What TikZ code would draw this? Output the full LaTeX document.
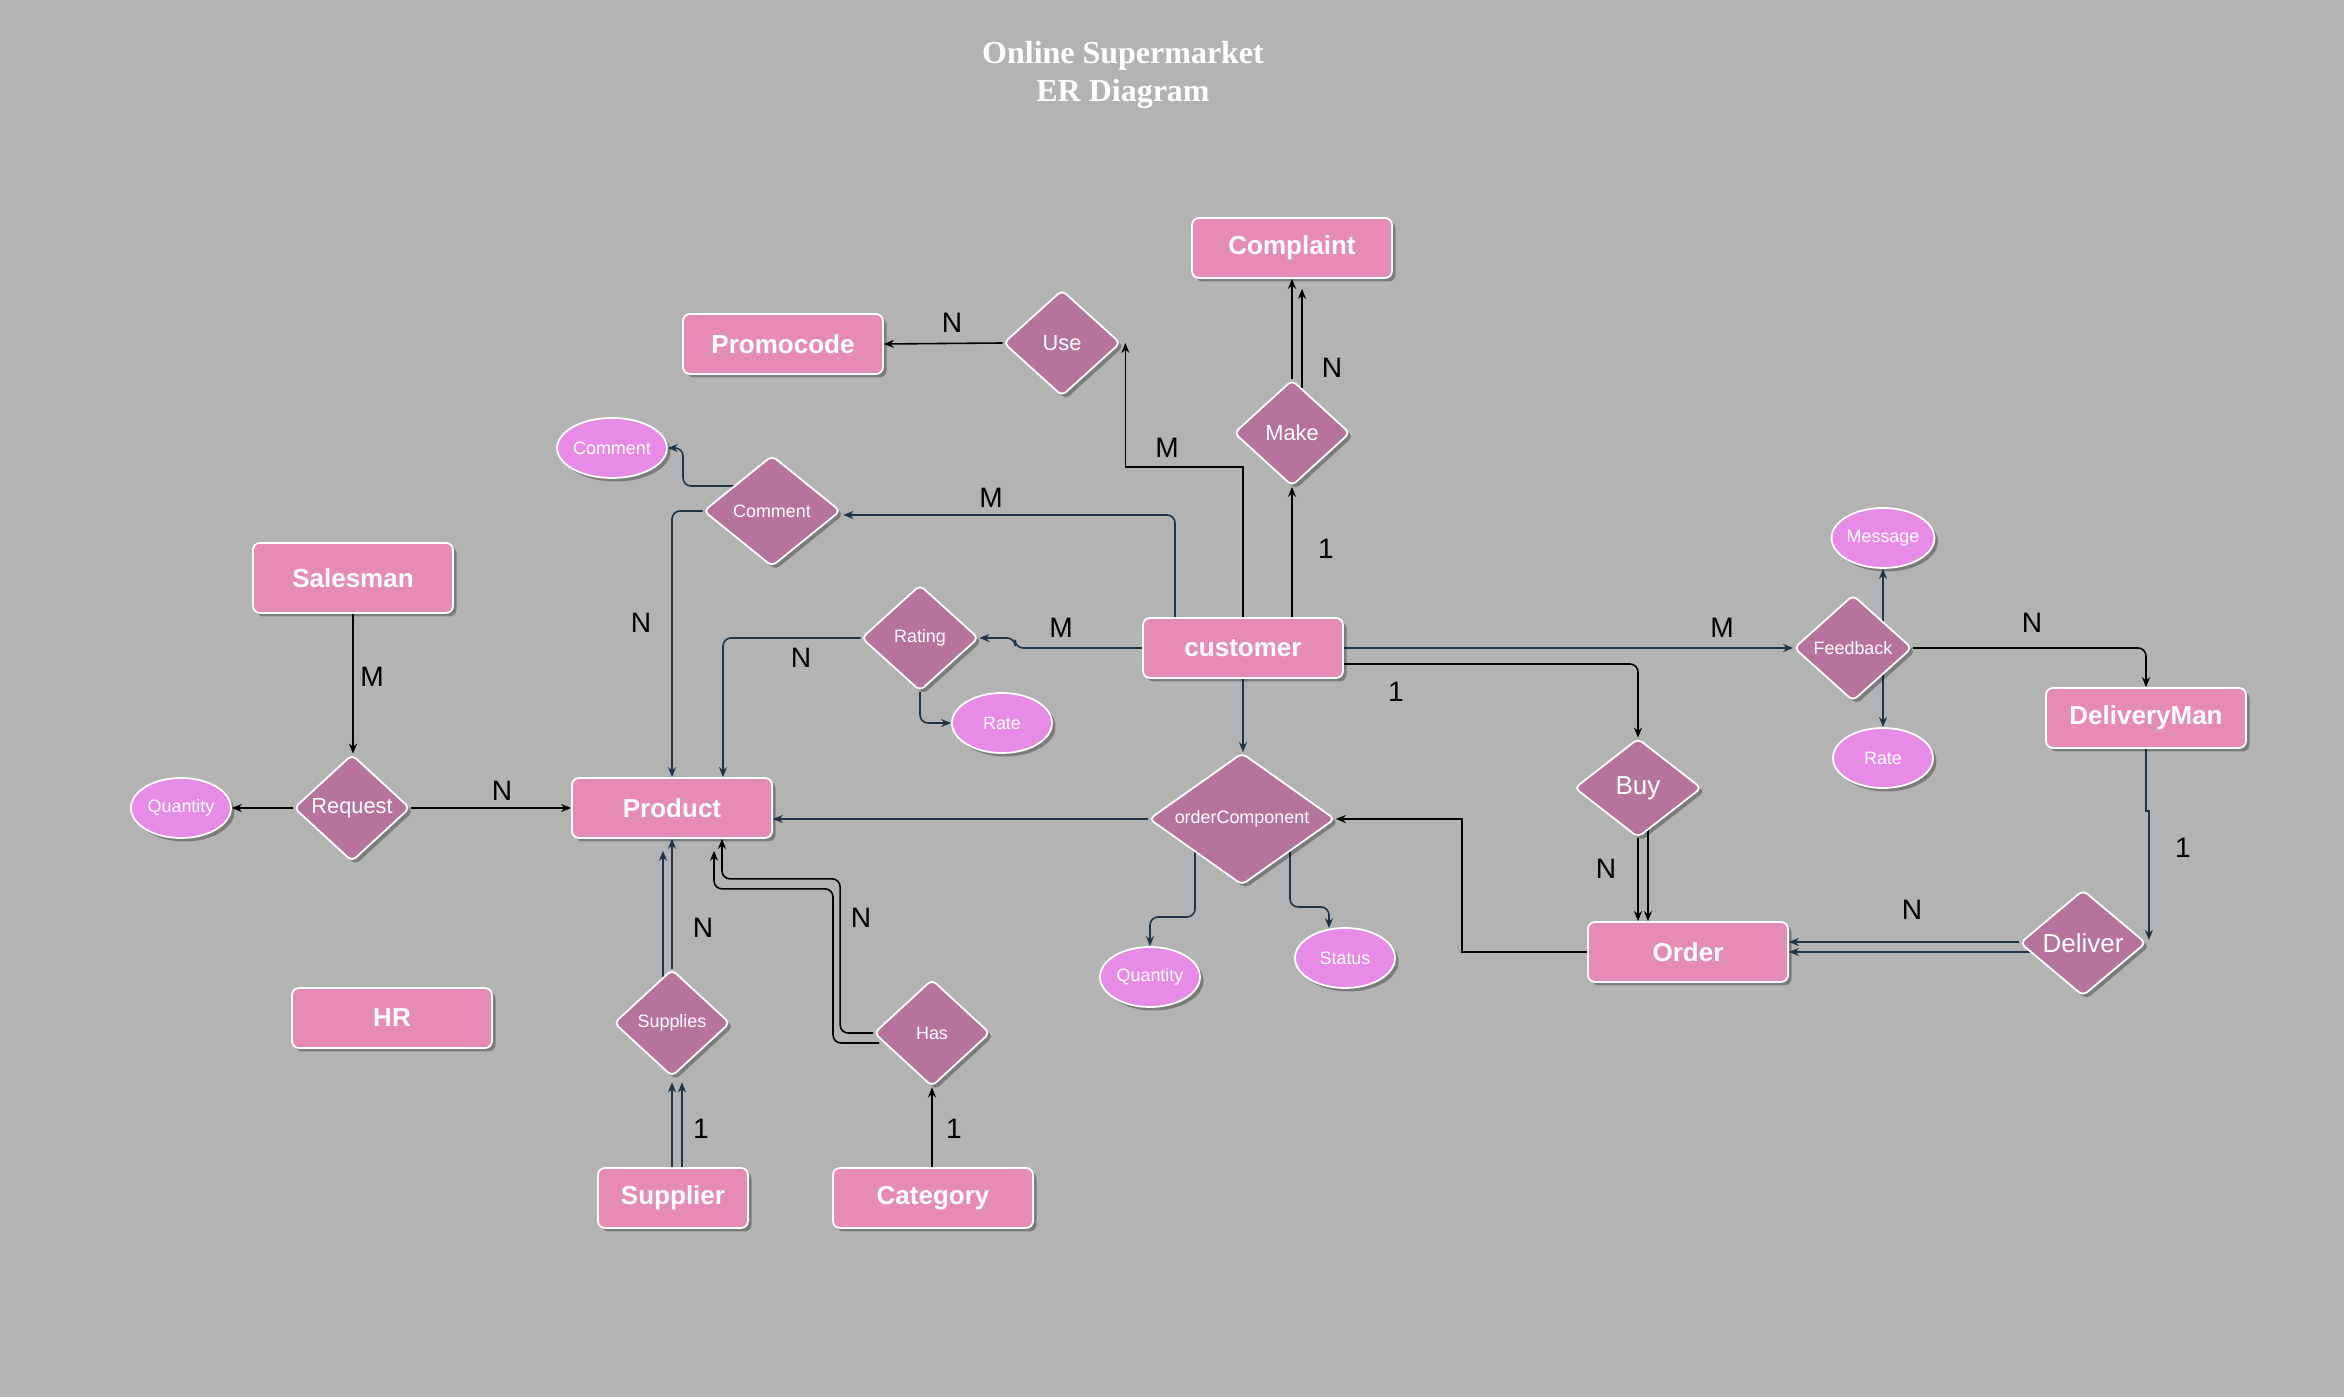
\documentclass[tikz,border=0pt]{standalone}
\usepackage{fontspec}
\setmainfont{Liberation Sans}
\newfontfamily\titleserif{Liberation Serif}
\usetikzlibrary{shapes.geometric,arrows.meta,calc,shadows}
\definecolor{bgc}{HTML}{B3B3B3}
\definecolor{entc}{HTML}{E68BB6}
\definecolor{relc}{HTML}{B5739D}
\definecolor{attc}{HTML}{E78BE6}
\definecolor{navyc}{HTML}{1F3447}
\newcommand{\entfont}{\bfseries\fontsize{7.4pt}{8.9pt}\selectfont}
\newcommand{\bigrelfont}{\fontsize{7.4pt}{8.9pt}\selectfont}
\newcommand{\relfont}{\fontsize{6.2pt}{7.4pt}\selectfont}
\newcommand{\smfont}{\fontsize{5.1pt}{6.1pt}\selectfont}
\newcommand{\cardfont}{\fontsize{8pt}{9.6pt}\selectfont}
\newcommand{\ttlfont}{\titleserif\bfseries\fontsize{9.1pt}{10.8pt}\selectfont}
\pgfdeclarelayer{bglayer}
\pgfdeclarelayer{lines}
\pgfsetlayers{bglayer,lines,main}
\tikzset{
  shd/.style={drop shadow={shadow xshift=0.35mm,shadow yshift=-0.35mm,opacity=0.3,fill=black}},
  ent/.style={rectangle, rounded corners=0.7mm, fill=entc, draw=white, line width=0.5pt,
    text=white, font=\entfont, minimum width=20mm, minimum height=6mm, inner sep=0pt, shd},
  rel/.style={diamond, rounded corners=0.5mm, fill=relc, draw=white, line width=0.5pt,
    text=white, inner sep=0pt, shd},
  attr/.style={ellipse, fill=attc, draw=white, line width=0.5pt, text=white, font=\smfont,
    minimum width=10mm, minimum height=6mm, inner sep=0pt, shd},
  card/.style={font=\cardfont, text=black, inner sep=0pt},
  con/.style={line width=0.45pt, -{Stealth[length=1mm,width=0.8mm]}},
  blk/.style={con, draw=black},
  nvy/.style={con, draw=navyc},
  rc/.style={rounded corners=0.8mm}
}
\begin{document}
\begin{tikzpicture}[x=0.1mm,y=-0.1mm]
\begin{pgfonlayer}{bglayer}
\fill[bgc] (0,0) rectangle (2344,1397);
\end{pgfonlayer}
\useasboundingbox (0,0) rectangle (2344,1397);

% title
\node[font=\ttlfont, text=white, align=center, inner sep=0pt] (title) at (1123,75) {Online Supermarket\\ER Diagram};

% entities
\node[ent] (complaint) at (1292,248) {Complaint};
\node[ent] (promo) at (783,344) {Promocode};
\node[ent] (cust) at (1243,648) {customer};
\node[ent, minimum height=7mm] (salesman) at (353,578) {Salesman};
\node[ent] (product) at (672,808) {Product};
\node[ent] (hr) at (392,1018) {HR};
\node[ent, minimum width=15mm] (supplier) at (673,1198) {Supplier};
\node[ent] (category) at (933,1198) {Category};
\node[ent] (order) at (1688,952) {Order};
\node[ent] (dman) at (2146,718) {DeliveryMan};

% relationships
\node[rel, minimum width=11.7mm, minimum height=10.6mm, font=\relfont] (use) at (1062,343) {Use};
\node[rel, minimum width=11.6mm, minimum height=10.6mm, font=\relfont] (make) at (1292,433) {Make};
\node[rel, minimum width=13.7mm, minimum height=11.1mm, font=\smfont] (comment) at (772,511) {Comment};
\node[rel, minimum width=11.7mm, minimum height=10.6mm, font=\smfont] (rating) at (920,638) {Rating};
\node[rel, minimum width=11.6mm, minimum height=10.7mm, font=\relfont] (request) at (352,808) {Request};
\node[rel, minimum width=11.6mm, minimum height=10.7mm, font=\smfont] (supplies) at (672,1023) {Supplies};
\node[rel, minimum width=11.6mm, minimum height=10.7mm, font=\smfont] (has) at (932,1033) {Has};
\node[rel, shape aspect=1.4, minimum width=18.6mm, minimum height=13.2mm, font=\smfont] (oc) at (1242,819) {orderComponent};
\node[rel, shape aspect=1.2, minimum width=12.7mm, minimum height=9.9mm, font=\bigrelfont] (buy) at (1638,788) {Buy};
\node[rel, minimum width=11.8mm, minimum height=10.6mm, font=\smfont] (feedback) at (1853,648) {Feedback};
\node[rel, shape aspect=1.2, minimum width=12.6mm, minimum height=10.6mm, font=\bigrelfont] (deliver) at (2083,943) {Deliver};

% attributes
\node[attr] (ecomment) at (612,448) {Comment};
\node[attr] (qty1) at (181,808) {Quantity};
\node[attr] (rate1) at (1002,723) {Rate};
\node[attr] (qty2) at (1150,977) {Quantity};
\node[attr] (status) at (1345,958) {Status};
\node[attr] (message) at (1883,538) {Message};
\node[attr] (rate2) at (1883,758) {Rate};

% connectors
\begin{pgfonlayer}{lines}
\draw[blk] (use.west) -- (promo.east);
\draw[blk] (cust.north) -- ++(0,-150) -| ($(use.east)+(4,0)$);
\draw[blk] (make.south |- cust.north) -- (make.south);
\draw[blk] (make.north) -- (complaint.south);
\draw[blk] ($(make.north)+(10,9)$) -- ($(complaint.south)+(10,10)$);
\draw[nvy, rc] ($(cust.north)+(-68,0)$) |- ($(comment.east)+(2,4)$);
\draw[nvy, rc] ($(comment.center)+(-36,-25)$) -- ++(-53,0) |- (ecomment.east);
\draw[nvy, rc] (comment.west) -| (product.north);
\draw[nvy, rc] (cust.west) -- ++(-127,0) |- (rating.east);
\draw[nvy, rc] (rating.west) -| ($(product.north)+(51,0)$);
\draw[nvy, rc] (rating.south) |- (rate1.west);
\draw[blk] (salesman.south) -- (salesman.south |- request.north);
\draw[blk] (request.west) -- (qty1.east);
\draw[blk] (request.east) -- (product.west);
\draw[nvy] (oc.west) -- (oc.west -| product.east);
\draw[nvy] (cust.south) -- (cust.south |- oc.north);
\draw[nvy, rc] ($(oc.center)+(-47,33)$) -- ++(0,65) -| (qty2.north);
\draw[nvy, rc] ($(oc.center)+(48,32)$) -- ++(0,56) -| ($(status.north)+(-16,1)$);
\draw[blk] (order.west) -- ++(-125,0) |- (oc.east);
\draw[blk, rc] ($(cust.east)+(0,16)$) -| (buy.north);
\draw[nvy] (cust.east) -- (feedback.west);
\draw[blk, rc] (feedback.east) -| (dman.north);
\draw[nvy] ($(feedback.center)+(30,-25)$) -- (message.south);
\draw[nvy] ($(feedback.center)+(30,25)$) -- (rate2.north);
\draw[nvy] (dman.south) -- ++(0,62) -| ($(deliver.east)+(2,-3)$);
\draw[nvy] ($(deliver.west)+(0,-1)$) -- (order.east |- 0,942);
\draw[nvy] ($(deliver.west)+(11,9)$) -- (order.east |- 0,952);
\draw[blk] (buy.south) -- (buy.south |- order.north);
\draw[blk] ($(buy.south)+(10,-8)$) -- ($(buy.south |- order.north)+(10,0)$);
\draw[nvy] (supplies.north) -- (product.south);
\draw[nvy] ($(supplies.north)+(-9,8)$) -- ($(product.south)+(-9,12)$);
\draw[nvy] (supplies.south |- supplier.north) -- ($(supplies.south)+(0,5)$);
\draw[nvy] ($(supplies.south |- supplier.north)+(10,0)$) -- ($(supplies.south)+(10,5)$);
\draw[blk, rc] (has.west) -- ++(-33,0) |- ($(product.south)+(50,40)$) -- ($(product.south)+(50,0)$);
\draw[blk, rc] ($(has.west)+(6,10)$) -- (833,1043) |- ($(product.south)+(42,50)$) -- ($(product.south)+(42,12)$);
\draw[blk] (has.south |- category.north) -- (has.south);
\end{pgfonlayer}

% cardinalities
\node[card] (c1) at (952,323) {N};
\node[card] (c2) at (1167,448) {M};
\node[card] (c3) at (1332,368) {N};
\node[card] (c4) at (1326,549) {1};
\node[card] (c5) at (991,498) {M};
\node[card] (c6) at (641,623) {N};
\node[card] (c7) at (1061,628) {M};
\node[card] (c8) at (801,658) {N};
\node[card] (c9) at (372,677) {M};
\node[card] (c10) at (502,791) {N};
\node[card] (c11) at (703,928) {N};
\node[card] (c12) at (701,1129) {1};
\node[card] (c13) at (861,918) {N};
\node[card] (c14) at (954,1129) {1};
\node[card] (c15) at (1396,692) {1};
\node[card] (c16) at (1722,628) {M};
\node[card] (c17) at (2032,623) {N};
\node[card] (c18) at (2183,848) {1};
\node[card] (c19) at (1912,910) {N};
\node[card] (c20) at (1606,869) {N};
\end{tikzpicture}
\end{document}
